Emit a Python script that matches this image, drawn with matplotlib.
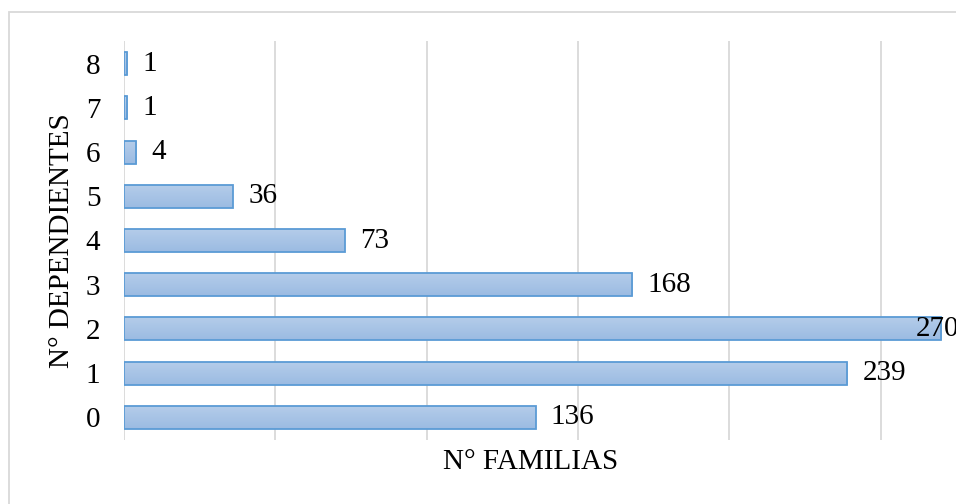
import numpy as np
import matplotlib
matplotlib.use("Agg")
import matplotlib.pyplot as plt
from matplotlib.patches import Rectangle
from matplotlib.colors import LinearSegmentedColormap

dependientes = ["0", "1", "2", "3", "4", "5", "6", "7", "8"]
familias = [136, 239, 270, 168, 73, 36, 4, 1, 1]
xticks = [0, 50, 100, 150, 200, 250, 300]

plt.rcParams["font.family"] = ["Liberation Serif", "DejaVu Serif"]

fig = plt.figure(figsize=(9.56, 5.04), dpi=100)
# plot area runs past the right edge (source image was cropped)
ax = fig.add_axes([124 / 956, 1 - 439.6 / 504, 908 / 956, 398.2 / 504])

ypos = np.arange(len(dependientes))
bars = ax.barh(ypos, familias, height=0.52, color="none",
               edgecolor="#5b9bd5", linewidth=1.3, zorder=3)

# vertical gradient fill like the Excel bars
cmap = LinearSegmentedColormap.from_list("grad", ["#b5cdea", "#9bbbe2"])
grad = np.linspace(0, 1, 64).reshape(-1, 1)
for b in bars:
    x0, y0, w, h = b.get_x(), b.get_y(), b.get_width(), b.get_height()
    im = ax.imshow(grad, cmap=cmap, aspect="auto", origin="upper",
                   extent=(x0, x0 + w, y0, y0 + h), zorder=2)
    im.set_clip_path(b)

for i, v in enumerate(familias):
    off = 11 if v < 260 else -18
    ax.annotate(str(v), xy=(v, i), xytext=(off, 0), textcoords="offset points",
                ha="left", va="center", fontsize=21, zorder=4)

ax.set_xlim(0, 300)
ax.set_ylim(-0.5, 8.5)
ax.set_yticks(ypos)
ax.set_yticklabels(dependientes)
ax.set_xticks(xticks)
ax.set_xticklabels([])
ax.tick_params(axis="both", length=0, labelsize=21)
ax.tick_params(axis="y", pad=17)
ax.grid(axis="x", color="#d9d9d9", linewidth=1.3, zorder=0)
ax.set_axisbelow(True)
for s in ax.spines.values():
    s.set_visible(False)

ax.set_ylabel("N° DEPENDIENTES", fontsize=21, labelpad=8)
fig.text(531 / 956, 1 - 462 / 504, "N° FAMILIAS", ha="center", va="center",
         fontsize=21)

# chart border (cropped at right and bottom)
fig.add_artist(Rectangle((9 / 956, -0.2), 1.2, 0.2 + (504 - 12) / 504,
                         transform=fig.transFigure, fill=False,
                         edgecolor="#d9d9d9", linewidth=1.3))

fig.savefig("out.png", dpi=100)
